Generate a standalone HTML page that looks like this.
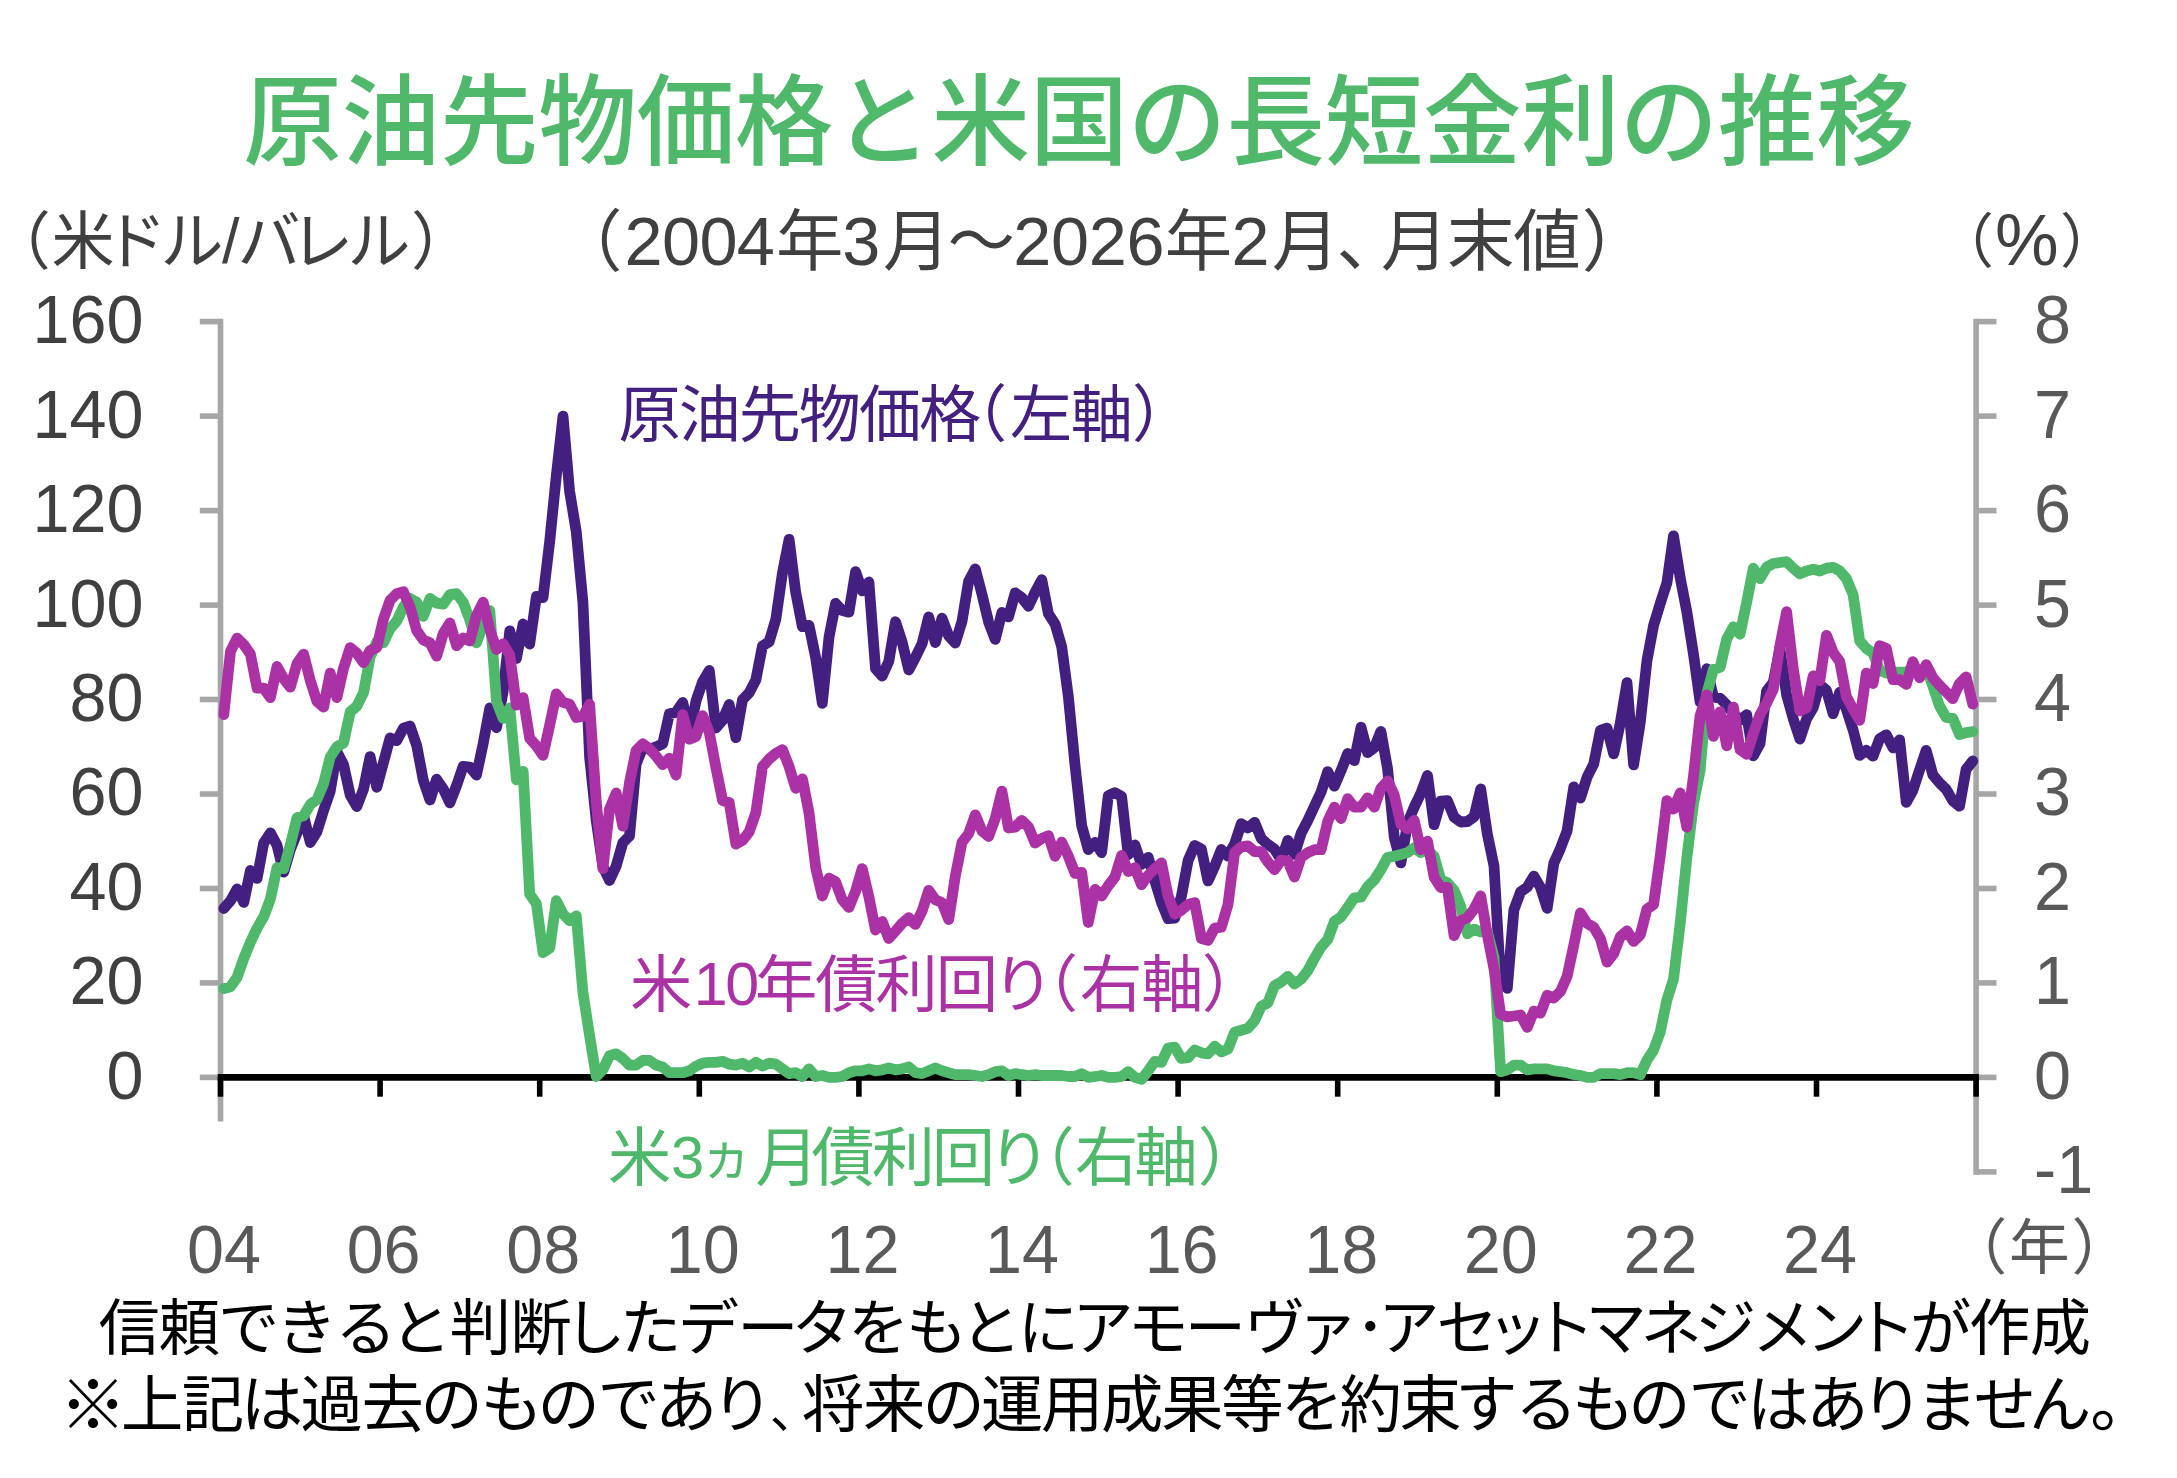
<!DOCTYPE html>
<html lang="ja"><head><meta charset="utf-8"><title>原油先物価格と米国の長短金利の推移</title>
<style>
html,body{margin:0;padding:0;background:#fff;}
body{width:2177px;height:1478px;overflow:hidden;}
svg{display:block;}
text{font-family:"Liberation Sans","Noto Sans CJK JP",sans-serif;}
.ax{font-size:66.5px;fill:#404040;}
.axr{font-size:66.5px;fill:#595959;}
</style></head><body>
<svg width="2177" height="1478" viewBox="0 0 2177 1478">
<rect width="2177" height="1478" fill="#fff"/>

<g stroke="#a6a6a6" stroke-width="5.6" fill="none">
<line x1="220.5" y1="318.8" x2="220.5" y2="1121.5"/>
<line x1="1976.1" y1="318.8" x2="1976.1" y2="1174.7"/>
<line x1="199.8" y1="1077.4" x2="220.5" y2="1077.4"/>
<line x1="199.8" y1="982.9" x2="220.5" y2="982.9"/>
<line x1="199.8" y1="888.5" x2="220.5" y2="888.5"/>
<line x1="199.8" y1="794.0" x2="220.5" y2="794.0"/>
<line x1="199.8" y1="699.5" x2="220.5" y2="699.5"/>
<line x1="199.8" y1="605.1" x2="220.5" y2="605.1"/>
<line x1="199.8" y1="510.6" x2="220.5" y2="510.6"/>
<line x1="199.8" y1="416.1" x2="220.5" y2="416.1"/>
<line x1="199.8" y1="321.6" x2="220.5" y2="321.6"/>
<line x1="1976.1" y1="1171.9" x2="1996.5" y2="1171.9"/>
<line x1="1976.1" y1="1077.4" x2="1996.5" y2="1077.4"/>
<line x1="1976.1" y1="982.9" x2="1996.5" y2="982.9"/>
<line x1="1976.1" y1="888.5" x2="1996.5" y2="888.5"/>
<line x1="1976.1" y1="794.0" x2="1996.5" y2="794.0"/>
<line x1="1976.1" y1="699.5" x2="1996.5" y2="699.5"/>
<line x1="1976.1" y1="605.1" x2="1996.5" y2="605.1"/>
<line x1="1976.1" y1="510.6" x2="1996.5" y2="510.6"/>
<line x1="1976.1" y1="416.1" x2="1996.5" y2="416.1"/>
<line x1="1976.1" y1="321.6" x2="1996.5" y2="321.6"/>
</g>
<text class="ax" transform="translate(143.5 1098.8) scale(1 1.04)" text-anchor="end">0</text>
<text class="ax" transform="translate(143.5 1004.3) scale(1 1.04)" text-anchor="end">20</text>
<text class="ax" transform="translate(143.5 909.9) scale(1 1.04)" text-anchor="end">40</text>
<text class="ax" transform="translate(143.5 815.4) scale(1 1.04)" text-anchor="end">60</text>
<text class="ax" transform="translate(143.5 720.9) scale(1 1.04)" text-anchor="end">80</text>
<text class="ax" transform="translate(143.5 626.5) scale(1 1.04)" text-anchor="end">100</text>
<text class="ax" transform="translate(143.5 532.0) scale(1 1.04)" text-anchor="end">120</text>
<text class="ax" transform="translate(143.5 437.5) scale(1 1.04)" text-anchor="end">140</text>
<text class="ax" transform="translate(143.5 343.0) scale(1 1.04)" text-anchor="end">160</text>
<text class="axr" transform="translate(2034 1193.3) scale(1 1.04)">-1</text>
<text class="axr" transform="translate(2034 1098.8) scale(1 1.04)">0</text>
<text class="axr" transform="translate(2034 1004.3) scale(1 1.04)">1</text>
<text class="axr" transform="translate(2034 909.9) scale(1 1.04)">2</text>
<text class="axr" transform="translate(2034 815.4) scale(1 1.04)">3</text>
<text class="axr" transform="translate(2034 720.9) scale(1 1.04)">4</text>
<text class="axr" transform="translate(2034 626.5) scale(1 1.04)">5</text>
<text class="axr" transform="translate(2034 532.0) scale(1 1.04)">6</text>
<text class="axr" transform="translate(2034 437.5) scale(1 1.04)">7</text>
<text class="axr" transform="translate(2034 343.0) scale(1 1.04)">8</text>
<g stroke="#000" fill="none"><line x1="217.7" y1="1077.4" x2="1978.9" y2="1077.4" stroke-width="6.6"/>
<line x1="220.5" y1="1077.4" x2="220.5" y2="1096.7" stroke-width="5.6"/>
<line x1="380.1" y1="1077.4" x2="380.1" y2="1096.7" stroke-width="5.6"/>
<line x1="539.7" y1="1077.4" x2="539.7" y2="1096.7" stroke-width="5.6"/>
<line x1="699.3" y1="1077.4" x2="699.3" y2="1096.7" stroke-width="5.6"/>
<line x1="858.9" y1="1077.4" x2="858.9" y2="1096.7" stroke-width="5.6"/>
<line x1="1018.5" y1="1077.4" x2="1018.5" y2="1096.7" stroke-width="5.6"/>
<line x1="1178.1" y1="1077.4" x2="1178.1" y2="1096.7" stroke-width="5.6"/>
<line x1="1337.7" y1="1077.4" x2="1337.7" y2="1096.7" stroke-width="5.6"/>
<line x1="1497.3" y1="1077.4" x2="1497.3" y2="1096.7" stroke-width="5.6"/>
<line x1="1656.9" y1="1077.4" x2="1656.9" y2="1096.7" stroke-width="5.6"/>
<line x1="1816.5" y1="1077.4" x2="1816.5" y2="1096.7" stroke-width="5.6"/>
<line x1="1976.1" y1="1077.4" x2="1976.1" y2="1096.7" stroke-width="5.6"/>
</g>
<polyline points="223.8,908.5 230.5,900.8 237.1,889.0 243.8,902.4 250.4,870.5 257.1,878.4 263.7,842.9 270.4,832.9 277.0,845.3 283.7,872.2 290.3,849.7 297.0,833.0 303.6,815.7 310.3,842.5 316.9,831.9 323.6,810.5 330.2,791.3 336.9,751.8 343.5,764.5 350.2,795.1 356.8,806.6 363.5,789.1 370.1,756.6 376.8,787.3 383.4,762.7 390.1,737.9 396.7,740.7 403.4,728.2 410.0,726.0 416.7,745.5 423.3,780.2 430.0,800.0 436.6,779.2 443.3,789.0 449.9,802.8 456.6,785.5 463.2,766.3 469.9,767.0 476.5,775.0 483.2,743.5 489.8,708.0 496.5,727.7 503.1,691.7 509.8,630.9 516.4,658.4 523.1,624.0 529.7,644.0 536.4,596.4 543.0,597.6 549.7,541.5 556.3,475.9 563.0,416.1 569.6,491.3 576.3,532.0 582.9,602.0 589.6,757.1 596.2,820.3 602.9,866.7 609.5,880.5 616.2,866.0 622.8,842.8 629.5,835.9 636.1,764.2 642.8,747.3 649.4,749.4 656.1,746.9 662.7,743.9 669.4,713.7 676.0,712.4 682.7,702.5 689.3,733.1 696.0,701.1 702.6,681.8 709.3,670.5 715.9,728.0 722.6,720.2 729.2,704.5 735.9,737.7 742.5,699.7 749.2,692.8 755.8,680.1 762.5,645.8 769.1,641.9 775.8,619.4 782.4,573.3 789.1,539.3 795.7,592.3 802.4,626.7 809.0,625.4 815.7,657.9 822.3,703.3 829.0,637.2 835.6,603.3 842.3,610.6 848.9,612.2 855.6,571.7 862.2,590.8 868.9,582.0 875.5,668.7 882.2,676.1 888.8,661.4 895.5,621.7 902.1,641.9 908.8,670.0 915.4,657.4 922.1,643.7 928.7,616.9 935.4,642.6 942.0,618.1 948.7,635.9 955.3,643.0 962.0,621.3 968.6,581.3 975.3,568.9 981.9,594.0 988.6,622.1 995.2,639.4 1001.9,612.5 1008.5,616.9 1015.2,592.8 1021.8,597.6 1028.5,606.3 1035.1,592.2 1041.8,579.7 1048.4,613.7 1055.1,624.1 1061.7,646.8 1068.4,697.0 1075.0,764.9 1081.7,825.8 1088.3,849.5 1095.0,842.4 1101.6,852.6 1108.3,795.7 1114.9,792.6 1121.6,796.5 1128.2,854.8 1134.9,845.0 1141.5,864.4 1148.2,857.3 1154.8,880.7 1161.5,902.4 1168.1,918.6 1174.8,918.0 1181.4,896.3 1188.1,860.5 1194.7,845.5 1201.4,849.1 1208.0,880.9 1214.7,866.3 1221.3,849.5 1228.0,856.1 1234.6,843.9 1241.3,823.7 1247.9,828.0 1254.6,822.3 1261.2,838.4 1267.9,844.4 1274.5,849.2 1281.2,859.9 1287.8,840.4 1294.5,854.3 1301.1,833.3 1307.8,820.5 1314.4,806.3 1321.1,792.0 1327.7,771.6 1334.4,786.2 1341.0,770.7 1347.7,753.5 1354.3,760.7 1361.0,727.2 1367.6,752.6 1374.3,747.7 1380.9,731.4 1387.6,768.9 1394.2,836.8 1400.9,862.9 1407.5,823.3 1414.2,807.1 1420.8,793.3 1427.5,775.5 1434.1,824.7 1440.8,801.2 1447.4,800.7 1454.1,817.1 1460.7,822.0 1467.4,821.5 1474.0,816.8 1480.7,789.0 1487.3,833.9 1494.0,866.0 1500.6,980.7 1507.3,988.4 1513.9,909.8 1520.6,891.9 1527.2,887.2 1533.9,876.1 1540.5,887.4 1547.2,908.3 1553.8,863.2 1560.5,848.2 1567.1,830.8 1573.8,786.9 1580.4,798.0 1587.1,777.1 1593.7,764.1 1600.4,730.4 1607.0,728.1 1613.7,753.8 1620.3,723.0 1627.0,682.7 1633.6,764.8 1640.3,722.1 1646.9,661.0 1653.6,625.3 1660.2,603.7 1666.9,582.9 1673.5,535.8 1680.2,577.8 1686.8,611.6 1693.5,654.4 1700.1,701.9 1706.8,668.7 1713.4,696.9 1720.1,698.3 1726.7,704.9 1733.4,713.5 1740.0,720.0 1746.7,714.7 1753.3,755.8 1760.0,743.7 1766.6,691.0 1773.3,682.4 1779.9,648.6 1786.6,694.7 1793.2,718.6 1799.9,739.0 1806.5,719.1 1813.2,707.7 1819.8,684.5 1826.5,690.4 1833.1,713.7 1839.8,692.2 1846.4,709.4 1853.1,730.0 1859.7,755.4 1866.4,750.3 1873.0,756.2 1879.7,738.6 1886.3,734.8 1893.0,747.9 1899.6,739.8 1906.3,802.4 1912.9,790.3 1919.6,769.9 1926.2,750.3 1932.9,775.0 1939.5,782.8 1946.2,789.4 1952.8,800.8 1959.5,806.2 1966.1,769.4 1972.8,760.9" fill="none" stroke="#43207f" stroke-width="10.8" stroke-linejoin="round" stroke-linecap="round"/>
<polyline points="223.8,988.6 230.5,986.7 237.1,977.3 243.8,958.4 250.4,942.3 257.1,928.1 263.7,916.8 270.4,898.9 277.0,867.7 283.7,868.6 290.3,845.0 297.0,817.6 303.6,815.7 310.3,804.4 316.9,799.7 323.6,783.6 330.2,757.1 336.9,746.8 343.5,743.0 350.2,711.8 356.8,706.1 363.5,692.9 370.1,657.0 376.8,641.9 383.4,642.8 390.1,628.7 396.7,621.1 403.4,606.9 410.0,598.4 416.7,602.2 423.3,616.4 430.0,598.4 436.6,603.2 443.3,604.1 449.9,594.7 456.6,593.7 463.2,602.2 469.9,620.2 476.5,642.8 483.2,623.9 489.8,610.7 496.5,701.4 503.1,718.4 509.8,708.0 516.4,779.8 523.1,771.3 529.7,894.1 536.4,903.6 543.0,952.7 549.7,948.0 556.3,900.7 563.0,914.0 569.6,920.6 576.3,915.9 582.9,992.4 589.6,1035.8 596.2,1076.5 602.9,1069.8 609.5,1055.7 616.2,1053.8 622.8,1058.5 629.5,1065.1 636.1,1065.1 642.8,1060.4 649.4,1060.4 656.1,1065.1 662.7,1067.0 669.4,1072.7 676.0,1072.7 682.7,1072.7 689.3,1070.8 696.0,1066.1 702.6,1063.2 709.3,1062.3 715.9,1062.3 722.6,1061.3 729.2,1064.2 735.9,1065.1 742.5,1063.2 749.2,1067.0 755.8,1062.3 762.5,1066.1 769.1,1063.2 775.8,1064.2 782.4,1068.9 789.1,1073.6 795.7,1072.7 802.4,1076.5 809.0,1068.9 815.7,1076.5 822.3,1075.5 829.0,1077.4 835.6,1077.4 842.3,1076.5 848.9,1072.7 855.6,1070.8 862.2,1070.8 868.9,1068.9 875.5,1070.8 882.2,1069.8 888.8,1068.0 895.5,1069.8 902.1,1068.9 908.8,1067.0 915.4,1072.7 922.1,1073.6 928.7,1070.8 935.4,1068.0 942.0,1070.8 948.7,1072.7 955.3,1074.6 962.0,1074.6 968.6,1074.6 975.3,1075.5 981.9,1076.5 988.6,1074.6 995.2,1071.7 1001.9,1070.8 1008.5,1075.5 1015.2,1073.6 1021.8,1074.6 1028.5,1075.5 1035.1,1074.6 1041.8,1075.5 1048.4,1075.5 1055.1,1075.5 1061.7,1075.5 1068.4,1076.5 1075.0,1076.5 1081.7,1073.6 1088.3,1077.4 1095.0,1076.5 1101.6,1075.5 1108.3,1077.4 1114.9,1077.4 1121.6,1076.5 1128.2,1071.7 1134.9,1077.4 1141.5,1079.3 1148.2,1070.8 1154.8,1061.3 1161.5,1062.3 1168.1,1048.1 1174.8,1047.2 1181.4,1058.5 1188.1,1057.6 1194.7,1050.0 1201.4,1052.8 1208.0,1053.8 1214.7,1046.2 1221.3,1051.9 1228.0,1049.1 1234.6,1032.1 1241.3,1030.2 1247.9,1028.3 1254.6,1020.7 1261.2,1006.5 1267.9,1002.8 1274.5,985.8 1281.2,982.0 1287.8,976.3 1294.5,983.9 1301.1,979.2 1307.8,970.6 1314.4,958.4 1321.1,947.0 1327.7,939.5 1334.4,921.5 1341.0,916.8 1347.7,907.4 1354.3,897.9 1361.0,897.0 1367.6,886.6 1374.3,880.0 1380.9,869.6 1387.6,857.3 1394.2,856.3 1400.9,854.5 1407.5,852.6 1414.2,847.8 1420.8,852.6 1427.5,849.7 1434.1,856.3 1440.8,880.0 1447.4,882.8 1454.1,890.3 1460.7,906.4 1467.4,933.8 1474.0,929.1 1480.7,931.9 1487.3,931.9 1494.0,957.4 1500.6,1071.7 1507.3,1069.8 1513.9,1065.1 1520.6,1065.1 1527.2,1069.8 1533.9,1068.9 1540.5,1068.9 1547.2,1068.9 1553.8,1070.8 1560.5,1071.7 1567.1,1072.7 1573.8,1074.6 1580.4,1075.5 1587.1,1077.4 1593.7,1077.4 1600.4,1073.6 1607.0,1073.6 1613.7,1073.6 1620.3,1074.6 1627.0,1072.7 1633.6,1072.7 1640.3,1074.6 1646.9,1060.4 1653.6,1050.0 1660.2,1032.1 1666.9,999.9 1673.5,979.2 1680.2,923.4 1686.8,858.2 1693.5,803.4 1700.1,770.4 1706.8,693.9 1713.4,669.3 1720.1,667.4 1726.7,639.1 1733.4,626.8 1740.0,634.3 1746.7,602.2 1753.3,568.2 1760.0,578.6 1766.6,567.3 1773.3,563.5 1779.9,562.5 1786.6,561.6 1793.2,568.2 1799.9,573.9 1806.5,571.0 1813.2,569.2 1819.8,571.0 1826.5,568.2 1833.1,567.3 1839.8,571.0 1846.4,578.6 1853.1,594.7 1859.7,640.9 1866.4,648.5 1873.0,653.2 1879.7,670.2 1886.3,673.1 1893.0,672.1 1899.6,672.1 1906.3,672.1 1912.9,668.3 1919.6,672.1 1926.2,667.4 1932.9,686.3 1939.5,706.1 1946.2,717.5 1952.8,718.4 1959.5,734.5 1966.1,732.6 1972.8,731.6" fill="none" stroke="#4fb86b" stroke-width="10.8" stroke-linejoin="round" stroke-linecap="round"/>
<polyline points="223.8,714.6 230.5,651.3 237.1,638.1 243.8,644.7 250.4,654.2 257.1,688.2 263.7,688.2 270.4,697.6 277.0,666.5 283.7,678.7 290.3,687.2 297.0,663.6 303.6,654.2 310.3,680.6 316.9,701.4 323.6,707.1 330.2,673.1 336.9,697.6 343.5,668.3 350.2,647.6 356.8,653.2 363.5,662.7 370.1,650.4 376.8,647.6 383.4,619.2 390.1,600.3 396.7,593.7 403.4,591.8 410.0,606.9 416.7,630.6 423.3,640.0 430.0,642.8 436.6,656.1 443.3,633.4 449.9,623.0 456.6,645.7 463.2,638.1 469.9,640.9 476.5,615.4 483.2,602.2 489.8,629.6 496.5,649.5 503.1,643.8 509.8,655.1 516.4,705.2 523.1,697.6 529.7,738.3 536.4,745.8 543.0,755.3 549.7,725.0 556.3,693.9 563.0,702.4 569.6,704.2 576.3,717.5 582.9,716.5 589.6,704.2 596.2,801.5 602.9,868.6 609.5,809.1 616.2,793.0 622.8,826.1 629.5,782.7 636.1,750.5 642.8,743.9 649.4,748.6 656.1,756.2 662.7,764.7 669.4,758.1 676.0,775.1 682.7,714.6 689.3,739.2 696.0,736.4 702.6,715.6 709.3,732.6 715.9,767.5 722.6,800.6 729.2,802.5 735.9,844.1 742.5,840.3 749.2,831.8 755.8,812.9 762.5,766.6 769.1,759.0 775.8,753.4 782.4,749.6 789.1,766.6 795.7,788.3 802.4,778.9 809.0,812.9 815.7,867.7 822.3,896.0 829.0,878.1 835.6,881.8 842.3,899.8 848.9,907.4 855.6,891.3 862.2,868.6 868.9,897.0 875.5,930.0 882.2,921.5 888.8,938.5 895.5,931.0 902.1,923.4 908.8,917.7 915.4,924.4 922.1,911.1 928.7,890.3 935.4,899.8 942.0,902.6 948.7,919.6 955.3,876.2 962.0,842.2 968.6,833.7 975.3,814.8 981.9,830.8 988.6,836.5 995.2,818.6 1001.9,791.2 1008.5,828.0 1015.2,827.1 1021.8,820.4 1028.5,827.1 1035.1,843.1 1041.8,838.4 1048.4,835.6 1055.1,856.3 1061.7,842.2 1068.4,856.3 1075.0,873.3 1081.7,872.4 1088.3,922.5 1095.0,889.4 1101.6,896.0 1108.3,885.6 1114.9,877.1 1121.6,855.4 1128.2,871.5 1134.9,867.7 1141.5,884.7 1148.2,875.2 1154.8,868.6 1161.5,863.0 1168.1,896.0 1174.8,914.0 1181.4,910.2 1188.1,904.5 1194.7,902.6 1201.4,938.5 1208.0,940.4 1214.7,928.1 1221.3,927.2 1228.0,904.5 1234.6,852.6 1241.3,846.9 1247.9,845.9 1254.6,851.6 1261.2,851.6 1267.9,862.0 1274.5,869.6 1281.2,860.1 1287.8,861.1 1294.5,877.1 1301.1,857.3 1307.8,852.6 1314.4,849.7 1321.1,849.7 1327.7,821.4 1334.4,807.2 1341.0,818.6 1347.7,798.7 1354.3,807.2 1361.0,807.2 1367.6,797.8 1374.3,807.2 1380.9,788.3 1387.6,780.8 1394.2,794.9 1400.9,824.2 1407.5,828.9 1414.2,820.4 1420.8,849.7 1427.5,841.2 1434.1,877.1 1440.8,887.5 1447.4,887.5 1454.1,935.7 1460.7,920.6 1467.4,917.7 1474.0,909.2 1480.7,896.0 1487.3,934.8 1494.0,968.8 1500.6,1014.1 1507.3,1016.9 1513.9,1016.0 1520.6,1015.0 1527.2,1027.3 1533.9,1011.3 1540.5,1013.2 1547.2,995.2 1553.8,998.0 1560.5,991.4 1567.1,976.3 1573.8,945.1 1580.4,913.0 1587.1,923.4 1593.7,927.2 1600.4,938.5 1607.0,962.1 1613.7,953.6 1620.3,936.6 1627.0,931.0 1633.6,941.4 1640.3,934.8 1646.9,909.2 1653.6,904.5 1660.2,856.3 1666.9,800.6 1673.5,809.1 1680.2,793.0 1686.8,827.1 1693.5,776.0 1700.1,715.6 1706.8,694.8 1713.4,736.4 1720.1,711.8 1726.7,745.8 1733.4,707.1 1740.0,749.6 1746.7,754.3 1753.3,733.5 1760.0,714.6 1766.6,703.3 1773.3,689.1 1779.9,645.7 1786.6,611.7 1793.2,668.3 1799.9,710.9 1806.5,708.0 1813.2,675.9 1819.8,680.6 1826.5,635.3 1833.1,652.3 1839.8,661.7 1846.4,696.7 1853.1,709.0 1859.7,720.3 1866.4,673.1 1873.0,683.5 1879.7,645.7 1886.3,648.5 1893.0,679.7 1899.6,679.7 1906.3,684.4 1912.9,661.7 1919.6,677.8 1926.2,664.6 1932.9,677.8 1939.5,685.3 1946.2,692.0 1952.8,698.6 1959.5,683.5 1966.1,676.8 1972.8,704.2" fill="none" stroke="#ab32a4" stroke-width="10.8" stroke-linejoin="round" stroke-linecap="round"/>
<text class="axr" transform="translate(224.0 1273.3) scale(1 1.04)" text-anchor="middle">04</text>
<text class="axr" transform="translate(383.6 1273.3) scale(1 1.04)" text-anchor="middle">06</text>
<text class="axr" transform="translate(543.2 1273.3) scale(1 1.04)" text-anchor="middle">08</text>
<text class="axr" transform="translate(702.8 1273.3) scale(1 1.04)" text-anchor="middle">10</text>
<text class="axr" transform="translate(862.4 1273.3) scale(1 1.04)" text-anchor="middle">12</text>
<text class="axr" transform="translate(1022.0 1273.3) scale(1 1.04)" text-anchor="middle">14</text>
<text class="axr" transform="translate(1181.6 1273.3) scale(1 1.04)" text-anchor="middle">16</text>
<text class="axr" transform="translate(1341.2 1273.3) scale(1 1.04)" text-anchor="middle">18</text>
<text class="axr" transform="translate(1500.8 1273.3) scale(1 1.04)" text-anchor="middle">20</text>
<text class="axr" transform="translate(1660.4 1273.3) scale(1 1.04)" text-anchor="middle">22</text>
<text class="axr" transform="translate(1820.0 1273.3) scale(1 1.04)" text-anchor="middle">24</text>
<text fill="#4fb86b" font-weight="500"><tspan x="243.3 341.6 439.9 538.2 636.5 734.8 833.2 931.5 1029.8 1128.1 1226.4 1324.7 1423.1 1521.4 1619.7 1718.0 1816.3" y="157.1" font-size="98.51">原油先物価格と米国の長短金利の推移</tspan></text>
<text fill="#404040" font-weight="400"><tspan x="-12.2" y="263.0" font-size="63.04">（</tspan><tspan x="51.4" y="263.0" font-size="63.04">米</tspan><tspan x="103.8" y="263.0" font-size="63.04">ド</tspan><tspan x="160.4" y="263.0" font-size="63.04">ル</tspan><tspan x="222.0" y="263.0" font-size="63.04">/</tspan><tspan x="237.4" y="263.0" font-size="63.04">バ</tspan><tspan x="290.2" y="263.0" font-size="63.04">レ</tspan><tspan x="347.6" y="263.0" font-size="63.04">ル</tspan><tspan x="411.0" y="263.0" font-size="63.04">）</tspan></text>
<text fill="#404040" font-weight="400"><tspan x="555.0" y="265.4" font-size="67.42">（</tspan><tspan x="624.5 661.9 699.4 736.8" y="264.9" font-size="68.45">2004</tspan><tspan x="776.0" y="265.4" font-size="67.42">年</tspan><tspan x="842.3" y="264.9" font-size="68.45">3</tspan><tspan x="883.0" y="265.4" font-size="67.42">月</tspan><tspan x="947.6" y="265.4" font-size="67.42">～</tspan><tspan x="1013.3 1051.0 1088.7 1126.4" y="264.9" font-size="68.45">2026</tspan><tspan x="1164.7" y="265.4" font-size="67.42">年</tspan><tspan x="1231.5" y="264.9" font-size="68.43">2</tspan><tspan x="1271.9" y="265.4" font-size="67.42">月</tspan><tspan x="1336.4" y="265.4" font-size="67.42">、</tspan><tspan x="1381.1 1447.1 1513.3" y="265.4" font-size="67.42">月末値</tspan><tspan x="1581.8" y="265.4" font-size="67.42">）</tspan></text>
<text fill="#404040" font-weight="400"><tspan x="1934.7" y="262.4" font-size="59.16">（</tspan><tspan x="1995.0" y="264.6" font-size="71.57">%</tspan><tspan x="2060.0" y="262.4" font-size="59.16">）</tspan></text>
<text fill="#595959" font-weight="400"><tspan x="1946.5" y="1269.0" font-size="60.75">（</tspan><tspan x="2009.0" y="1269.0" font-size="60.75">年</tspan><tspan x="2071.4" y="1269.0" font-size="60.75">）</tspan></text>
<text fill="#43207f" font-weight="400"><tspan x="618.6 678.7 738.7 798.8 858.9 918.9" y="437.4" font-size="62.15">原油先物価格</tspan><tspan x="945.0" y="437.4" font-size="62.15">（</tspan><tspan x="1010.0 1070.7" y="437.4" font-size="62.15">左軸</tspan><tspan x="1132.1" y="437.4" font-size="62.15">）</tspan></text>
<text fill="#ab32a4" font-weight="400"><tspan x="630.0" y="1007.0" font-size="62.28">米</tspan><tspan x="693.8 725.2" y="1004.7" font-size="60.99">10</tspan><tspan x="755.0 815.3 875.6 935.8" y="1007.0" font-size="62.28">年債利回</tspan><tspan x="991.9" y="1007.0" font-size="62.28">り</tspan><tspan x="1015.7" y="1007.0" font-size="62.28">（</tspan><tspan x="1080.1 1141.3" y="1007.0" font-size="62.28">右軸</tspan><tspan x="1201.8" y="1007.0" font-size="62.28">）</tspan></text>
<text fill="#4fb86b" font-weight="400"><tspan x="607.9" y="1179.8" font-size="63.26">米</tspan><tspan x="671.1" y="1177.6" font-size="59.72">3</tspan><tspan x="700.4" y="1175.1" font-size="52.09">ヵ</tspan><tspan x="755.4" y="1179.8" font-size="63.26">月</tspan><tspan x="811.6 871.8 931.8" y="1179.8" font-size="63.26">債利回</tspan><tspan x="987.7" y="1179.8" font-size="63.26">り</tspan><tspan x="1011.4" y="1179.8" font-size="63.26">（</tspan><tspan x="1075.1 1134.6" y="1179.8" font-size="63.26">右軸</tspan><tspan x="1197.7" y="1179.8" font-size="63.26">）</tspan></text>
<text fill="#000" font-weight="400"><tspan x="98.6 158.7" y="1349.8" font-size="61.30">信頼</tspan><tspan x="218.1" y="1349.8" font-size="61.30">で</tspan><tspan x="275.9" y="1349.8" font-size="61.30">き</tspan><tspan x="335.3" y="1349.8" font-size="61.30">る</tspan><tspan x="390.1" y="1349.8" font-size="61.30">と</tspan><tspan x="449.8 510.3" y="1349.8" font-size="61.30">判断</tspan><tspan x="564.3" y="1349.8" font-size="61.30">し</tspan><tspan x="619.9" y="1349.8" font-size="61.30">た</tspan><tspan x="677.8" y="1349.8" font-size="61.30">デ</tspan><tspan x="737.3" y="1349.8" font-size="61.30">ー</tspan><tspan x="791.4" y="1349.8" font-size="61.30">タ</tspan><tspan x="848.1" y="1349.8" font-size="61.30">を</tspan><tspan x="905.9" y="1349.8" font-size="61.30">も</tspan><tspan x="960.2" y="1349.8" font-size="61.30">と</tspan><tspan x="1017.7" y="1349.8" font-size="61.30">に</tspan><tspan x="1072.2" y="1349.8" font-size="61.30">ア</tspan><tspan x="1127.4" y="1349.8" font-size="61.30">モ</tspan><tspan x="1184.7" y="1349.8" font-size="61.30">ー</tspan><tspan x="1244.1" y="1349.8" font-size="61.30">ヴ</tspan><tspan x="1296.8" y="1349.8" font-size="61.30">ァ</tspan><tspan x="1346.2" y="1344.3" font-size="48.10">・</tspan><tspan x="1378.2" y="1349.8" font-size="61.30">ア</tspan><tspan x="1436.6" y="1349.8" font-size="61.30">セ</tspan><tspan x="1486.8" y="1349.8" font-size="61.30">ッ</tspan><tspan x="1533.4" y="1349.8" font-size="61.30">ト</tspan><tspan x="1585.4" y="1349.8" font-size="61.30">マ</tspan><tspan x="1640.5" y="1349.8" font-size="61.30">ネ</tspan><tspan x="1695.1" y="1349.8" font-size="61.30">ジ</tspan><tspan x="1751.9" y="1349.8" font-size="61.30">メ</tspan><tspan x="1806.1" y="1349.8" font-size="61.30">ン</tspan><tspan x="1854.6" y="1349.8" font-size="61.30">ト</tspan><tspan x="1910.0" y="1349.8" font-size="61.30">が</tspan><tspan x="1969.1 2029.8" y="1349.8" font-size="61.30">作成</tspan></text>
<text fill="#000" font-weight="400"><tspan x="59.5" y="1428.7" font-size="67.08">※</tspan><tspan x="120.9 181.8" y="1427.1" font-size="62.33">上記</tspan><tspan x="240.8" y="1427.1" font-size="62.33">は</tspan><tspan x="300.4 361.5" y="1427.1" font-size="62.33">過去</tspan><tspan x="420.5" y="1427.1" font-size="62.33">の</tspan><tspan x="480.4" y="1427.1" font-size="62.33">も</tspan><tspan x="537.4" y="1427.1" font-size="62.33">の</tspan><tspan x="597.6" y="1427.1" font-size="62.33">で</tspan><tspan x="655.0" y="1427.1" font-size="62.33">あ</tspan><tspan x="711.3" y="1427.1" font-size="62.33">り</tspan><tspan x="769.7" y="1427.6" font-size="49.29">、</tspan><tspan x="802.1 862.9" y="1427.1" font-size="62.33">将来</tspan><tspan x="922.6" y="1427.1" font-size="62.33">の</tspan><tspan x="980.9 1041.1 1101.1 1161.2 1221.3" y="1427.1" font-size="62.33">運用成果等</tspan><tspan x="1281.1" y="1427.1" font-size="62.33">を</tspan><tspan x="1339.5 1399.2" y="1427.1" font-size="62.33">約束</tspan><tspan x="1455.3" y="1427.1" font-size="62.33">す</tspan><tspan x="1515.2" y="1427.1" font-size="62.33">る</tspan><tspan x="1571.9" y="1427.1" font-size="62.33">も</tspan><tspan x="1628.3" y="1427.1" font-size="62.33">の</tspan><tspan x="1688.5" y="1427.1" font-size="62.33">で</tspan><tspan x="1746.9" y="1427.1" font-size="62.33">は</tspan><tspan x="1806.2" y="1427.1" font-size="62.33">あ</tspan><tspan x="1860.9" y="1427.1" font-size="62.33">り</tspan><tspan x="1915.4" y="1427.1" font-size="62.33">ま</tspan><tspan x="1973.7" y="1427.1" font-size="62.33">せ</tspan><tspan x="2029.1" y="1427.1" font-size="62.33">ん</tspan><tspan x="2090.3" y="1425.7" font-size="64.33">。</tspan></text>
</svg></body></html>
